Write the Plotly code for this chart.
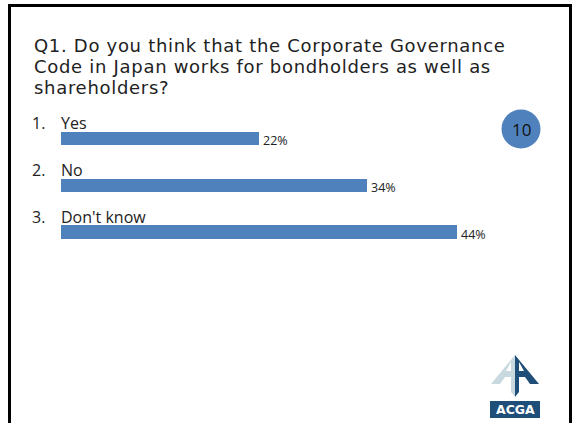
import plotly.graph_objects as go

W, H = 573, 423

# Survey responses
numbers = ["1.", "2.", "3."]
answers = ["Yes", "No", "Don't know"]
shares = [22, 34, 44]
slide_no = "10"
question_lines = [
    "Q1. Do you think that the Corporate Governance",
    "Code in Japan works for bondholders as well as",
    "shareholders?",
]

BLUE = "#4F81BD"
FONT = "Open Sans, Lato, sans-serif"
TITLE_FONT = "DejaVu Sans, sans-serif"
INK = "#222222"


def px(x):
    return x / W


def py(y):
    return 1 - y / H


fig = go.Figure()
fig.add_trace(go.Bar(
    x=shares,
    y=answers,
    orientation="h",
    marker=dict(color=BLUE, line=dict(width=0)),
    width=0.28,
    hoverinfo="skip",
))

# Question block: the base font size sets the line pitch (1.3em = 21px),
# the inner spans set the glyph size and tracking.
question = "<br>".join(
    f"<span style='font-size:18px;letter-spacing:0.7px'>{t}</span>" for t in question_lines
)
annotations = [
    dict(text=question, x=px(32), y=py(33), xref="paper", yref="paper",
         xanchor="left", yanchor="top", align="left", showarrow=False,
         font=dict(size=16.15, color=INK, family=TITLE_FONT)),
    dict(text=slide_no, x=px(521), y=py(129), xref="paper", yref="paper",
         xanchor="center", yanchor="middle", showarrow=False,
         font=dict(size=17, color="#111111", family=FONT)),
]

for num, ans, val in zip(numbers, answers, shares):
    annotations.append(dict(text=num, x=px(30), y=ans, xref="paper", yref="y",
                            xanchor="left", yanchor="middle", yshift=15.5,
                            showarrow=False,
                            font=dict(size=16, color=INK, family=FONT)))
    annotations.append(dict(text=ans, x=px(59), y=ans, xref="paper", yref="y",
                            xanchor="left", yanchor="middle", yshift=15.5,
                            showarrow=False,
                            font=dict(size=16, color=INK, family=FONT)))
    annotations.append(dict(text=f"{val}%", x=val, y=ans, xref="x", yref="y",
                            xanchor="left", yanchor="middle", xshift=2, yshift=-2,
                            showarrow=False,
                            font=dict(size=12.5, color=INK, family=FONT)))

# ACGA logo, drawn in pixel space
logo_light = [(515, 355), (491, 384), (500, 384), (505, 377), (511, 377), (511, 392), (515, 397)]
logo_dark = [(515, 355), (515, 397), (519, 392), (519, 377), (525, 377), (530, 384), (539, 384)]
hole_left = [(511, 362), (511, 371), (506, 371)]
hole_right = [(519, 362), (519, 371), (524, 371)]


def path(pts):
    return "M " + " L ".join(f"{px(x):.5f},{py(y):.5f}" for x, y in pts) + " Z"


shapes = [
    # slide frame
    dict(type="rect", xref="paper", yref="paper",
         x0=px(9.5), x1=px(570.5), y0=py(440), y1=py(5.5),
         line=dict(color="black", width=3), fillcolor="rgba(0,0,0,0)"),
    # page badge
    dict(type="circle", xref="paper", yref="paper",
         x0=px(501.5), x1=px(540.5), y0=py(148.5), y1=py(109.5),
         line=dict(color=BLUE, width=0), fillcolor=BLUE),
    dict(type="path", xref="paper", yref="paper", path=path(logo_light),
         fillcolor="#C9D9E0", line=dict(width=0)),
    dict(type="path", xref="paper", yref="paper", path=path(logo_dark),
         fillcolor="#1F4E79", line=dict(width=0)),
    dict(type="path", xref="paper", yref="paper", path=path(hole_left),
         fillcolor="white", line=dict(width=0)),
    dict(type="path", xref="paper", yref="paper", path=path(hole_right),
         fillcolor="white", line=dict(width=0)),
    dict(type="rect", xref="paper", yref="paper",
         x0=px(490), x1=px(540), y0=py(418), y1=py(401),
         fillcolor="#1F4E79", line=dict(width=0)),
]
annotations.append(dict(text="<b>ACGA</b>", x=px(515), y=py(409.5), xref="paper", yref="paper",
                        xanchor="center", yanchor="middle", showarrow=False,
                        font=dict(size=12.5, color="white", family="DejaVu Sans")))

fig.update_layout(
    width=W, height=H,
    margin=dict(l=0, r=0, t=0, b=0),
    paper_bgcolor="white", plot_bgcolor="white",
    showlegend=False,
    bargap=0,
    xaxis=dict(domain=[px(61), px(511)], range=[0, 50], visible=False, fixedrange=True),
    yaxis=dict(domain=[py(260.75), py(115.25)], categoryorder="array",
               categoryarray=answers, autorange="reversed", visible=False, fixedrange=True),
    annotations=annotations,
    shapes=shapes,
)

fig.write_html("out.html")
